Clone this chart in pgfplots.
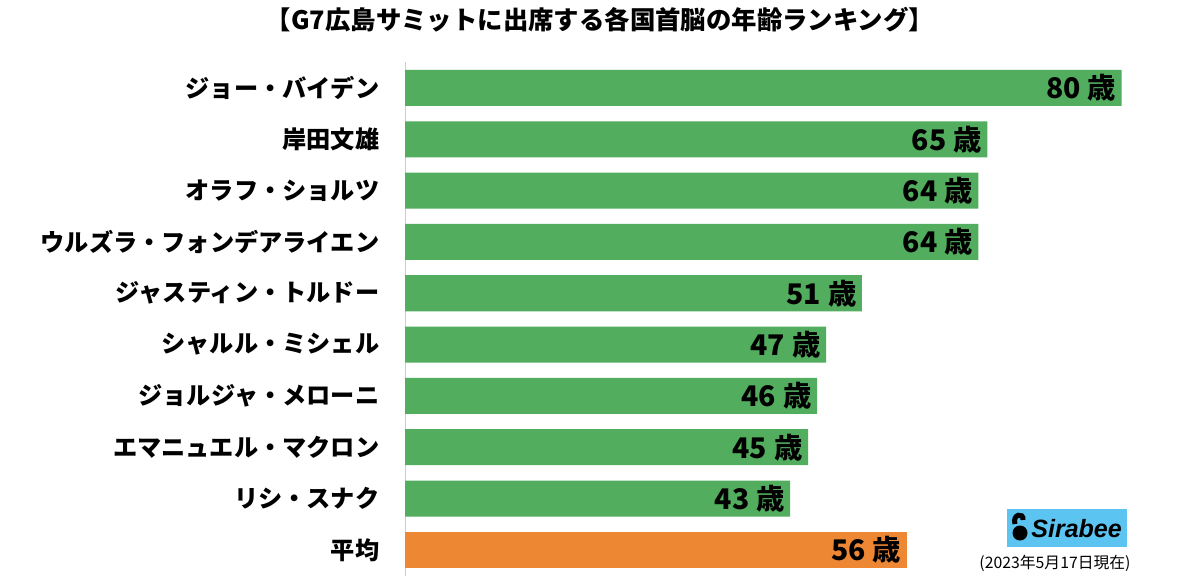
\documentclass[border=0pt]{standalone}
\usepackage{pgfplots}
\pgfplotsset{compat=1.18}
\usepackage{fontspec}
\setmainfont{Noto Sans CJK JP}
\newfontfamily\logofont{Liberation Sans}
\definecolor{barGreen}{RGB}{82,173,94}
\definecolor{barOrange}{RGB}{238,135,52}
\definecolor{logoBlue}{RGB}{92,196,240}
\definecolor{axisGray}{RGB}{205,205,205}

\begin{document}
\begin{tikzpicture}[x=0.5pt,y=0.5pt]
  \useasboundingbox (0,0) rectangle (1200,-578);
  \node[font=\bfseries\fontsize{12.7}{14}\selectfont] at (600,-20) {【G7広島サミットに出席する各国首脳の年齢ランキング】};
  \begin{axis}[
    at={(202.5pt,-31.15pt)}, anchor=north west,
    scale only axis, width=394.2pt, height=256.6pt,
    xbar, bar width=18pt, bar shift=0pt,
    xmin=0, xmax=88, ymin=-0.5, ymax=9.5,
    axis x line=none, axis y line=left,
    y axis line style={draw=axisGray,-},
    ytick={0,...,9}, ytick style={draw=none},
    yticklabels={平均,リシ・スナク,エマニュエル・マクロン,ジョルジャ・メローニ,シャルル・ミシェル,ジャスティン・トルドー,ウルズラ・フォンデアライエン,オラフ・ショルツ,岸田文雄,ジョー・バイデン},
    yticklabel style={font=\bfseries\fontsize{12.1}{14}\selectfont, inner xsep=0pt, xshift=-10.5pt},
    nodes near coords={\pgfmathprintnumber[assume math mode=true]{\pgfplotspointmeta}\hspace{0.25em}歳},
    nodes near coords style={anchor=east, inner xsep=0pt, xshift=-2.5pt,
      font=\bfseries\fontsize{14.2}{16}\selectfont},
    point meta=explicit,
    clip=false,
  ]
    \addplot[fill=barGreen, draw=none] coordinates {
      (80,9) [80] (65,8) [65] (64,7) [64] (64,6) [64] (51,5) [51]
      (47,4) [47] (46,3) [46] (45,2) [45] (43,1) [43]};
    \addplot[fill=barOrange, draw=none] coordinates {(56,0) [56]};
  \end{axis}
  % logo and date note
  \fill[logoBlue] (1007,-509) rectangle (1127,-547);
  \fill[black] (1020,-533) circle (7.5);
  \draw[black, line width=2.5pt] (1015,-524) .. controls (1012,-514) and (1024,-512) .. (1023,-520);
  \node[anchor=west, inner sep=0pt, font=\logofont\bfseries\itshape\fontsize{12.5}{14}\selectfont] at (1031,-529) {Sirabee};
  \node[font=\fontsize{7.9}{9}\selectfont] at (1055,-563) {(2023年5月17日現在)};
\end{tikzpicture}
\end{document}
